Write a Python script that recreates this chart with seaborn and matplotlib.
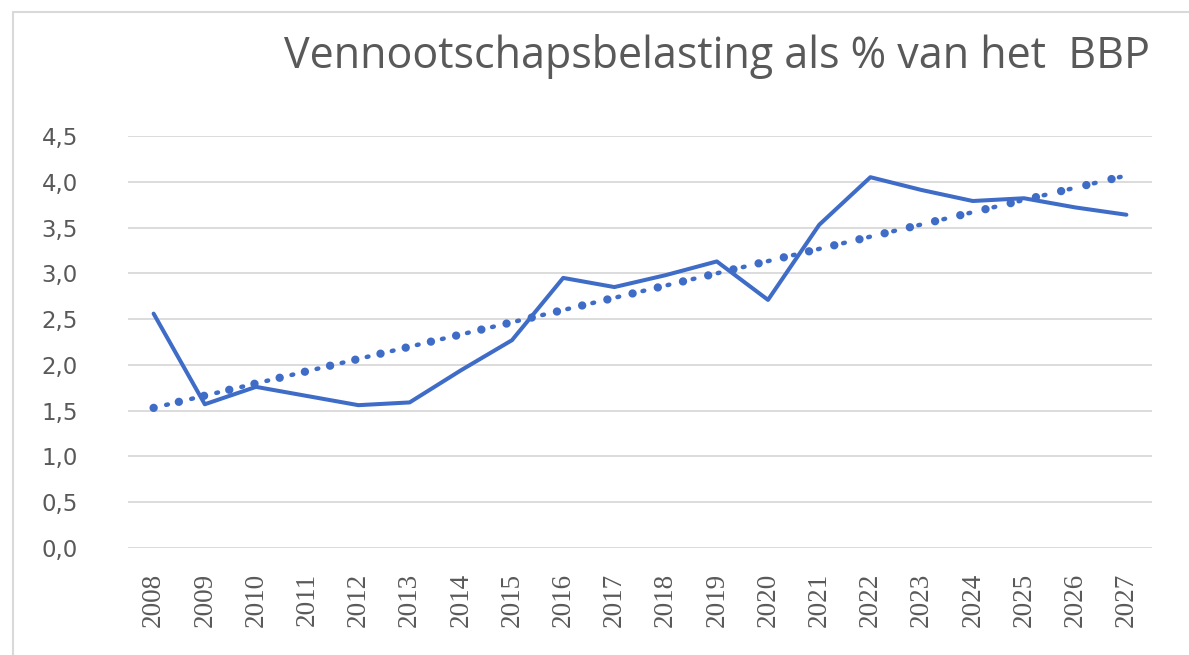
import numpy as np
import pandas as pd
import seaborn as sns
import matplotlib.pyplot as plt
from matplotlib.lines import Line2D

years = list(range(2008, 2028))
vpb_pct = [2.56, 1.57, 1.76, 1.66, 1.56, 1.59, 1.94, 2.27, 2.95, 2.85,
           2.98, 3.13, 2.71, 3.53, 4.05, 3.91, 3.79, 3.82, 3.72, 3.64]
y_ticks = [0.0, 0.5, 1.0, 1.5, 2.0, 2.5, 3.0, 3.5, 4.0, 4.5]
title = "Vennootschapsbelasting als % van het  BBP"

df = pd.DataFrame({"jaar": years, "pct": vpb_pct})
# linear trendline as in Excel
slope, icept = np.polyfit(df["jaar"], df["pct"], 1)
df["trend"] = slope * df["jaar"] + icept

sns.set_style("white")
plt.rcParams["font.family"] = ["DejaVu Sans"]

blue = "#3F6CC7"
grey_txt = "#595959"
grid_c = "#d9d9d9"

fig = plt.figure(figsize=(11.89, 6.55), dpi=100)
ax = fig.add_axes([128 / 1189, 1 - 548 / 655, (1152 - 128) / 1189, (548 - 136) / 655])

# trendline: big dots with small dots in between
sns.lineplot(data=df, x="jaar", y="trend", ax=ax, color=blue, lw=6.0,
             linestyle=(0, (0.01, 3.1)), dash_capstyle="round")
sns.lineplot(data=df, x="jaar", y="trend", ax=ax, color=blue, lw=3.2,
             linestyle=(2.9, (0.4, 5.4)), dash_capstyle="round")
sns.lineplot(data=df, x="jaar", y="pct", ax=ax, color=blue, lw=2.9,
             solid_joinstyle="round")

ax.set_xlim(2007.5, 2027.5)
ax.set_ylim(0, 4.5)
ax.set_yticks(y_ticks)
ax.set_yticklabels([f"{v:.1f}".replace(".", ",") for v in y_ticks],
                   fontsize=16.5, color=grey_txt)
ax.set_xticks(years)
ax.set_xticklabels([str(y) for y in years], rotation=90, fontsize=19.5,
                   family="Liberation Serif", color=grey_txt)
ax.tick_params(axis="y", length=0, pad=36)
ax.tick_params(axis="x", length=0, pad=18)
ax.grid(axis="y", color=grid_c, lw=1.3)
ax.set_axisbelow(True)
ax.set_xlabel("")
ax.set_ylabel("")
sns.despine(ax=ax, left=True, top=True, right=True, bottom=True)

fig.text(1150 / 1189, 1 - 68 / 655, title, ha="right", va="baseline",
         fontsize=31, family="Open Sans", color=grey_txt)

# outer chart frame (top and left edges visible)
fig.add_artist(Line2D([13 / 1189, 1], [1 - 12 / 655] * 2, color=grid_c, lw=1.5))
fig.add_artist(Line2D([13 / 1189] * 2, [0, 1 - 12 / 655], color=grid_c, lw=1.5))

fig.savefig("out.png", dpi=100)
